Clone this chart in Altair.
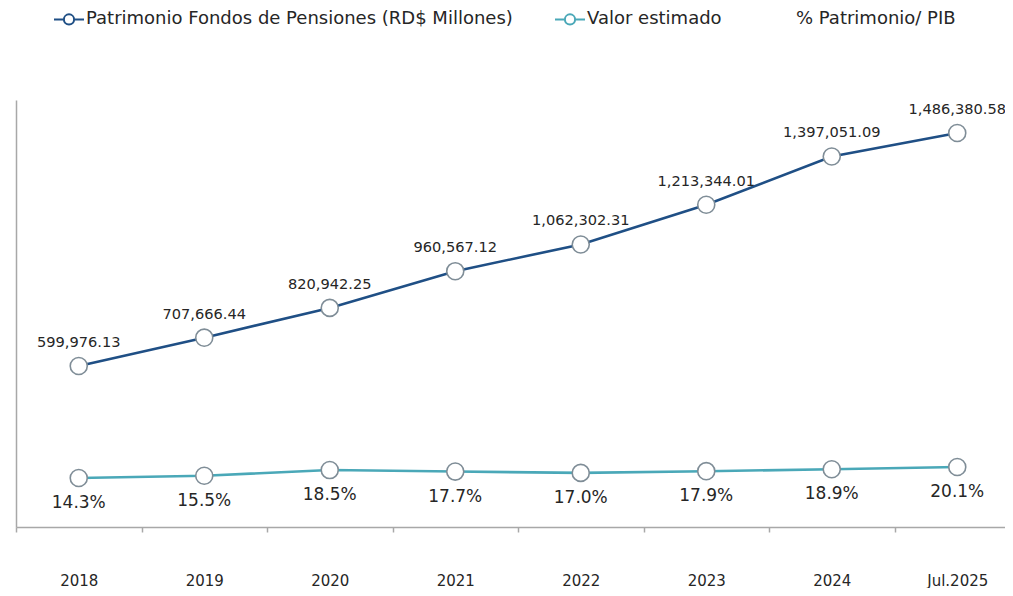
import altair as alt
import pandas as pd

years = ["2018", "2019", "2020", "2021", "2022", "2023", "2024", "Jul.2025"]
patrimonio = [599976.13, 707666.44, 820942.25, 960567.12, 1062302.31,
              1213344.01, 1397051.09, 1486380.58]
pct_pib = [14.3, 15.5, 18.5, 17.7, 17.0, 17.9, 18.9, 20.1]
series_names = ["Patrimonio Fondos de Pensiones (RD$ Millones)",
                "Valor estimado", "% Patrimonio/ PIB"]
series_colors = ["#1f4f85", "#4aa8b8", "#ffffff"]

FONT = "DejaVu Sans"
TXT = "#262626"
MARKER_STROKE = "#7f8d97"
AXIS_GRAY = "#a8a8a8"

df_top = pd.DataFrame({"year": years, "value": patrimonio, "series": series_names[0]})
df_top["label"] = [f"{v:,.2f}" for v in patrimonio]
df_low = pd.DataFrame({"year": years, "value": pct_pib, "series": series_names[1]})
df_low["label"] = [f"{v:.1f}%" for v in pct_pib]

LEG_PATH = ("M-1,0L-0.34,0M-0.34,0A0.34,0.34,0,1,1,0.34,0"
            "A0.34,0.34,0,1,1,-0.34,0M0.34,0L1,0")

x_enc = alt.X(
    "year:N", sort=years, title=None,
    scale=alt.Scale(type="band", paddingInner=0, paddingOuter=0, range=[0, 1004]),
    axis=alt.Axis(labelAngle=0, labelFont=FONT, labelFontSize=15, labelColor=TXT,
                  domainColor=AXIS_GRAY, domainWidth=1.5, tickColor=AXIS_GRAY,
                  tickWidth=1.5, tickSize=5, tickBand="extent", labelPadding=41,
                  grid=False),
)

color_enc = alt.Color(
    "series:N", title=None,
    scale=alt.Scale(domain=series_names, range=series_colors),
    legend=alt.Legend(orient="none", legendX=37, legendY=-97, direction="horizontal",
                      columns=3, symbolType=LEG_PATH, symbolSize=900,
                      symbolStrokeWidth=2, symbolFillColor="white",
                      labelFont=FONT, labelFontSize=18, labelColor=TXT,
                      labelOffset=1, columnPadding=38, labelLimit=600),
)

y_top_scale = alt.Scale(domain=[-12554, 1611885], nice=False, zero=False)
y_low_scale = alt.Scale(domain=[-11.53, 213.6], nice=False, zero=False)
y_top_axis = alt.Axis(labels=False, ticks=False, grid=False, title=None,
                      domainColor=AXIS_GRAY, domainWidth=1.5, orient="left")

y_top = alt.Y("value:Q", scale=y_top_scale, title=None, axis=y_top_axis)
y_low = alt.Y("value:Q", scale=y_low_scale, title=None, axis=None)

top_base = alt.Chart(df_top).encode(x=x_enc, y=y_top)
top_line = top_base.mark_line(strokeWidth=2.6).encode(color=color_enc)
top_pts = top_base.mark_point(filled=True, fill="white", stroke=MARKER_STROKE,
                              strokeWidth=1.6, size=290, opacity=1)
top_txt = top_base.mark_text(font=FONT, fontSize=14.6, color=TXT, dy=-23).encode(
    text="label:N")
top_layer = alt.layer(top_line, top_pts, top_txt)

low_base = alt.Chart(df_low).encode(x=x_enc, y=y_low)
low_line = low_base.mark_line(strokeWidth=2.6).encode(color=color_enc)
low_pts = low_base.mark_point(filled=True, fill="white", stroke=MARKER_STROKE,
                              strokeWidth=1.6, size=290, opacity=1)
low_txt = low_base.mark_text(font=FONT, fontSize=17, color=TXT, dy=25).encode(
    text="label:N")
low_layer = alt.layer(low_line, low_pts, low_txt)

chart = (
    alt.layer(top_layer, low_layer)
    .resolve_scale(y="independent")
    .properties(width=989, height=427,
                padding={"left": 8, "top": 92, "right": 0, "bottom": 61},
                autosize=alt.AutoSizeParams(type="none"))
    .configure(background="white")
    .configure_view(strokeWidth=0)
)

chart.save("out.html", embed_options={"renderer": "svg", "actions": False})
